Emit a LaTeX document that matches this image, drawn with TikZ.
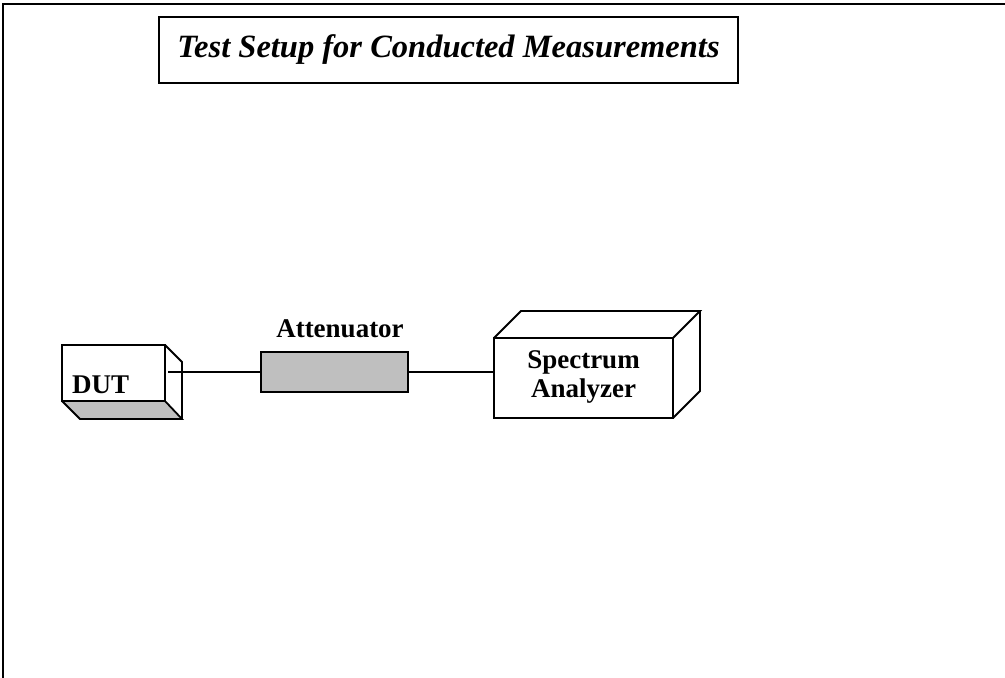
\documentclass[tikz,border=0pt]{standalone}
\usepackage{fontspec}
\setmainfont{Liberation Serif}
\begin{document}
\begin{tikzpicture}[x=1pt,y=-1pt,
  edge/.style={line width=1.8pt, line join=miter},
  lbl/.style={font=\fontsize{27}{29}\selectfont\bfseries, inner sep=0pt},
  conn/.style={line width=1.3pt}]
\useasboundingbox (0,0) rectangle (1005,678);
% outer frame (left and top edges visible)
\draw[line width=2.2pt] (3,678) -- (3,4) -- (1005,4);
% title
\node[draw, line width=1.8pt, minimum width=579pt, minimum height=66pt, inner sep=0pt,
      font=\fontsize{32.5}{36}\selectfont\bfseries\itshape] (title) at (448.5,50)
  {Test Setup for Conducted Measurements};
% DUT box
\fill[gray!50] (62,401) -- (165,401) -- (182,419) -- (80,419) -- cycle;
\draw[edge] (62,401) -- (80,419) -- (182,419) -- (165,401);
\draw[edge] (165,345) -- (182,362) -- (182,419);
\node[draw, edge, minimum width=103pt, minimum height=56pt, inner sep=0pt] (dut) at (113.5,373) {};
\node[lbl, anchor=base west] (dutlbl) at (72,393) {DUT};
\coordinate (dutport) at (168,372);
% Attenuator
\node[draw, edge, fill=gray!50, minimum width=147pt, minimum height=40pt, inner sep=0pt] (att) at (334.5,372) {};
\node[lbl, anchor=base] (attlbl) at (340,337) {Attenuator};
% Spectrum analyzer
\draw[edge] (494,338) -- (521,311) -- (700,311) -- (673,338);
\draw[edge] (700,311) -- (700,391) -- (673,418);
\node[draw, edge, minimum width=179pt, minimum height=80pt, inner sep=0pt] (sa) at (583.5,378) {};
\node[lbl, align=center, anchor=center] (salbl) at (583.5,377) {Spectrum\\Analyzer};
% connectors
\draw[conn] (dutport) -- (att.west);
\draw[conn] (att.east) -- (sa.west |- att.east);
\end{tikzpicture}
\end{document}
